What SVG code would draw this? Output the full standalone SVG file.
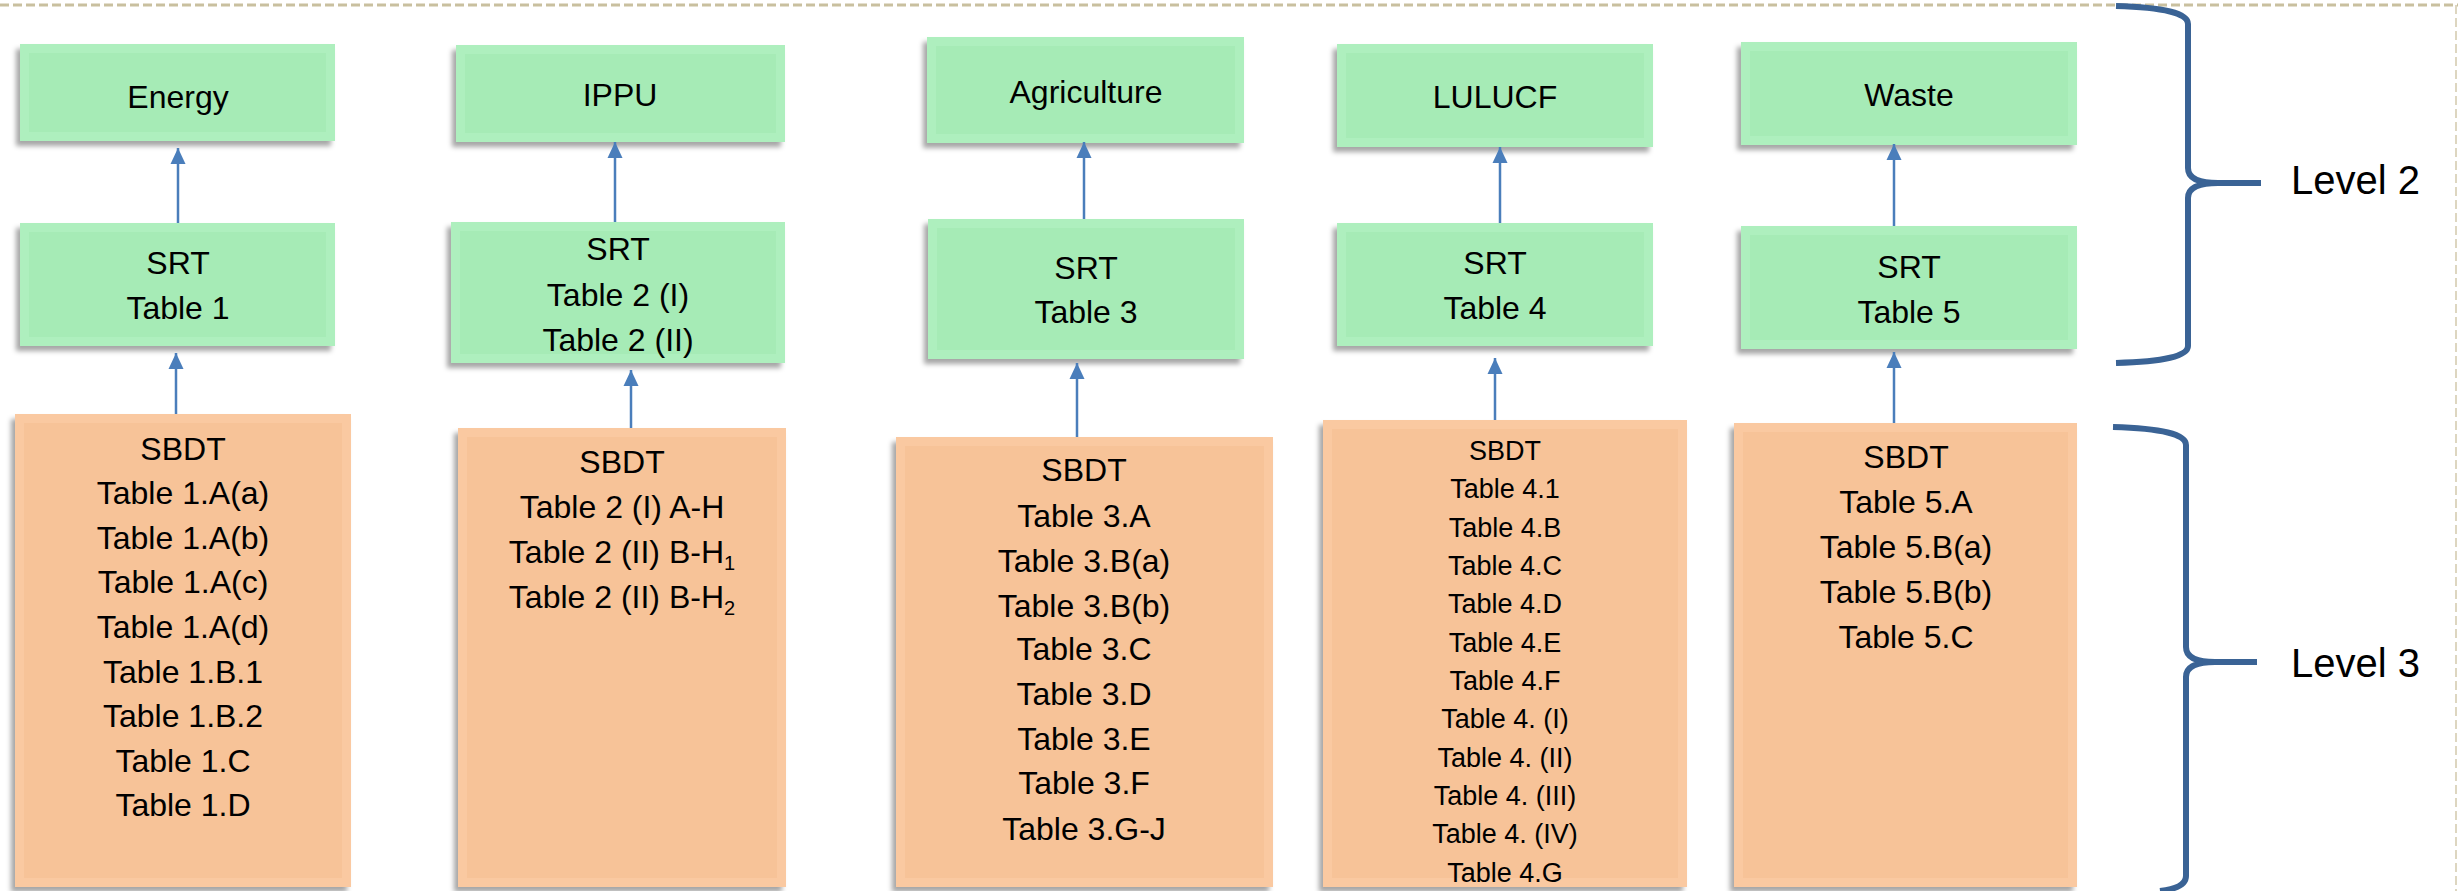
<svg xmlns="http://www.w3.org/2000/svg" width="2458" height="891" viewBox="0 0 2458 891">
<defs>
<style>
text{font-family:"Liberation Sans",Arial,sans-serif;fill:#000;text-anchor:middle;}
.t{font-size:32px;}
.s{font-size:27px;}
.lvl{font-size:40px;text-anchor:start;}
.go{fill:#aeefbe;}
.gi{fill:#a6ebb6;}
.oo{fill:#fac9a1;}
.oi{fill:#f7c398;}
.conn{stroke:#4a7ebb;stroke-width:2.5;fill:none;marker-end:url(#ah);}
.brace{stroke:#3a6395;stroke-width:6;fill:none;stroke-linecap:butt;stroke-linejoin:round;}
</style>
<filter id="sh" x="-10%" y="-10%" width="120%" height="130%">
<feDropShadow dx="-4" dy="5" stdDeviation="2.5" flood-color="#000" flood-opacity="0.35"/>
</filter>
<marker id="ah" markerWidth="16" markerHeight="16" viewBox="0 0 16 16" refX="16" refY="8" orient="auto" markerUnits="userSpaceOnUse">
<path d="M0,0.5 L16,8 L0,15.5 z" fill="#4a7ebb"/>
</marker>
</defs>
<rect x="0" y="0" width="2458" height="891" fill="#fff"/>
<g id="border">
<line x1="0" y1="5" x2="2458" y2="5" stroke="#c9c09f" stroke-width="3" stroke-dasharray="9 4"/>
<line x1="2456" y1="5" x2="2456" y2="891" stroke="#ddd6c0" stroke-width="2" stroke-dasharray="9 4"/>
</g>

<g id="energy">
<rect class="go" x="20" y="44" width="315" height="97" filter="url(#sh)"/>
<rect class="gi" x="29" y="53" width="297" height="79"/>
<text class="t" x="178" y="108">Energy</text>
</g>
<g id="srt1">
<rect class="go" x="20" y="223" width="315" height="123" filter="url(#sh)"/>
<rect class="gi" x="29" y="232" width="297" height="105"/>
<text class="t" x="178" y="274">SRT</text>
<text class="t" x="178" y="319">Table 1</text>
</g>
<g id="sbdt1">
<rect class="oo" x="15" y="414" width="336" height="473" filter="url(#sh)"/>
<rect class="oi" x="24" y="423" width="318" height="455"/>
<text class="t" x="183" y="460">SBDT</text>
<text class="t" x="183" y="504">Table 1.A(a)</text>
<text class="t" x="183" y="549">Table 1.A(b)</text>
<text class="t" x="183" y="593">Table 1.A(c)</text>
<text class="t" x="183" y="638">Table 1.A(d)</text>
<text class="t" x="183" y="683">Table 1.B.1</text>
<text class="t" x="183" y="727">Table 1.B.2</text>
<text class="t" x="183" y="772">Table 1.C</text>
<text class="t" x="183" y="816">Table 1.D</text>
</g>

<g id="ippu">
<rect class="go" x="456" y="45" width="329" height="97" filter="url(#sh)"/>
<rect class="gi" x="465" y="54" width="311" height="79"/>
<text class="t" x="620" y="106">IPPU</text>
</g>
<g id="srt2">
<rect class="go" x="451" y="222" width="334" height="141" filter="url(#sh)"/>
<rect class="gi" x="460" y="231" width="316" height="123"/>
<text class="t" x="618" y="260">SRT</text>
<text class="t" x="618" y="306">Table 2 (I)</text>
<text class="t" x="618" y="351">Table 2 (II)</text>
</g>
<g id="sbdt2">
<rect class="oo" x="458" y="428" width="328" height="459" filter="url(#sh)"/>
<rect class="oi" x="467" y="437" width="310" height="441"/>
<text class="t" x="622" y="473">SBDT</text>
<text class="t" x="622" y="518">Table 2 (I) A-H</text>
<text class="t" x="622" y="563">Table 2 (II) B-H<tspan font-size="20" dy="7">1</tspan></text>
<text class="t" x="622" y="608">Table 2 (II) B-H<tspan font-size="20" dy="7">2</tspan></text>
</g>

<g id="agriculture">
<rect class="go" x="927" y="37" width="317" height="106" filter="url(#sh)"/>
<rect class="gi" x="936" y="46" width="299" height="88"/>
<text class="t" x="1086" y="103">Agriculture</text>
</g>
<g id="srt3">
<rect class="go" x="928" y="219" width="316" height="140" filter="url(#sh)"/>
<rect class="gi" x="937" y="228" width="298" height="122"/>
<text class="t" x="1086" y="279">SRT</text>
<text class="t" x="1086" y="323">Table 3</text>
</g>
<g id="sbdt3">
<rect class="oo" x="896" y="437" width="377" height="450" filter="url(#sh)"/>
<rect class="oi" x="905" y="446" width="359" height="432"/>
<text class="t" x="1084" y="481">SBDT</text>
<text class="t" x="1084" y="527">Table 3.A</text>
<text class="t" x="1084" y="572">Table 3.B(a)</text>
<text class="t" x="1084" y="617">Table 3.B(b)</text>
<text class="t" x="1084" y="660">Table 3.C</text>
<text class="t" x="1084" y="705">Table 3.D</text>
<text class="t" x="1084" y="750">Table 3.E</text>
<text class="t" x="1084" y="794">Table 3.F</text>
<text class="t" x="1084" y="840">Table 3.G-J</text>
</g>

<g id="lulucf">
<rect class="go" x="1337" y="44" width="316" height="103" filter="url(#sh)"/>
<rect class="gi" x="1346" y="53" width="298" height="85"/>
<text class="t" x="1495" y="108">LULUCF</text>
</g>
<g id="srt4">
<rect class="go" x="1337" y="223" width="316" height="123" filter="url(#sh)"/>
<rect class="gi" x="1346" y="232" width="298" height="105"/>
<text class="t" x="1495" y="274">SRT</text>
<text class="t" x="1495" y="319">Table 4</text>
</g>
<g id="sbdt4">
<rect class="oo" x="1323" y="420" width="364" height="467" filter="url(#sh)"/>
<rect class="oi" x="1332" y="429" width="346" height="449"/>
<text class="s" x="1505" y="460">SBDT</text>
<text class="s" x="1505" y="498">Table 4.1</text>
<text class="s" x="1505" y="537">Table 4.B</text>
<text class="s" x="1505" y="575">Table 4.C</text>
<text class="s" x="1505" y="613">Table 4.D</text>
<text class="s" x="1505" y="652">Table 4.E</text>
<text class="s" x="1505" y="690">Table 4.F</text>
<text class="s" x="1505" y="728">Table 4. (I)</text>
<text class="s" x="1505" y="767">Table 4. (II)</text>
<text class="s" x="1505" y="805">Table 4. (III)</text>
<text class="s" x="1505" y="843">Table 4. (IV)</text>
<text class="s" x="1505" y="882">Table 4.G</text>
</g>

<g id="waste">
<rect class="go" x="1741" y="42" width="336" height="103" filter="url(#sh)"/>
<rect class="gi" x="1750" y="51" width="318" height="85"/>
<text class="t" x="1909" y="106">Waste</text>
</g>
<g id="srt5">
<rect class="go" x="1741" y="226" width="336" height="123" filter="url(#sh)"/>
<rect class="gi" x="1750" y="235" width="318" height="105"/>
<text class="t" x="1909" y="278">SRT</text>
<text class="t" x="1909" y="323">Table 5</text>
</g>
<g id="sbdt5">
<rect class="oo" x="1734" y="423" width="343" height="464" filter="url(#sh)"/>
<rect class="oi" x="1743" y="432" width="325" height="446"/>
<text class="t" x="1906" y="468">SBDT</text>
<text class="t" x="1906" y="513">Table 5.A</text>
<text class="t" x="1906" y="558">Table 5.B(a)</text>
<text class="t" x="1906" y="603">Table 5.B(b)</text>
<text class="t" x="1906" y="648">Table 5.C</text>
</g>

<g id="connectors">
<line class="conn" x1="178" y1="223" x2="178" y2="148"/>
<line class="conn" x1="176" y1="414" x2="176" y2="353"/>
<line class="conn" x1="615" y1="222" x2="615" y2="142"/>
<line class="conn" x1="631" y1="428" x2="631" y2="370"/>
<line class="conn" x1="1084" y1="219" x2="1084" y2="142"/>
<line class="conn" x1="1077" y1="437" x2="1077" y2="363"/>
<line class="conn" x1="1500" y1="223" x2="1500" y2="147"/>
<line class="conn" x1="1495" y1="420" x2="1495" y2="358"/>
<line class="conn" x1="1894" y1="226" x2="1894" y2="144"/>
<line class="conn" x1="1894" y1="423" x2="1894" y2="352"/>
</g>

<g id="level2">
<path class="brace" d="M2116,6 Q2188,8 2188,24 L2188,168 Q2188,183 2218,183 L2261,183 M2218,183 Q2188,183 2188,198 L2188,346 Q2188,361 2116,363"/>
<text class="lvl" x="2291" y="194">Level 2</text>
</g>
<g id="level3">
<path class="brace" d="M2113,427 Q2186,429 2186,445 L2186,647 Q2186,662 2215,662 L2257,662 M2215,662 Q2186,662 2186,677 L2186,876 Q2186,888 2160,891"/>
<text class="lvl" x="2291" y="677">Level 3</text>
</g>
</svg>
